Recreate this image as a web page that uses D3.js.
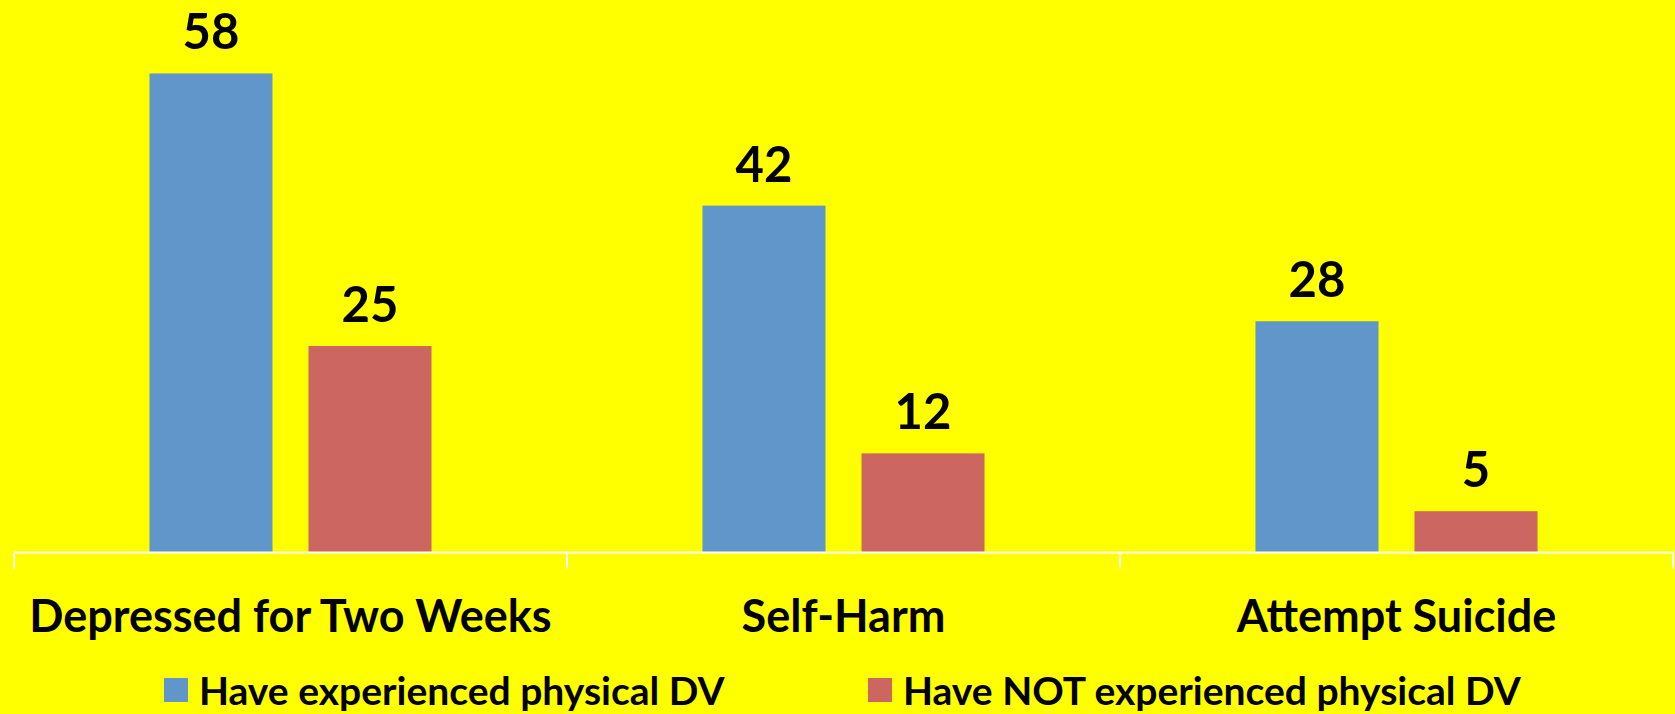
<!DOCTYPE html>
<html>
<head>
<meta charset="utf-8">
<script src="https://cdn.jsdelivr.net/npm/d3@7"></script>
<style>
  html, body { margin: 0; padding: 0; background: #ffff00; }
  svg text { font-family: Lato, "Open Sans", sans-serif; font-weight: bold; fill: #000; }
</style>
</head>
<body>
<svg id="chart" width="1675" height="714"></svg>
<script>
// data
var categories = ['Depressed for Two Weeks', 'Self-Harm', 'Attempt Suicide'];
var seriesNames = ['Have experienced physical DV', 'Have NOT experienced physical DV'];
var experienced = [58, 42, 28];
var notExperienced = [25, 12, 5];
var seriesColors = ['#6096c9', '#cc6661'];

var svg = d3.select('#chart');
var W = 1675, H = 714;
var baseY = 552.5;

svg.append('rect').attr('width', W).attr('height', H).attr('fill', '#ffff00');

var x = d3.scaleBand()
  .domain(categories)
  .range([14, 1673])
  .padding(0);

var xInner = d3.scaleBand()
  .domain(seriesNames)
  .range([0, x.bandwidth()])
  .paddingInner(0.2264)
  .paddingOuter(0.852);

var y = d3.scaleLinear()
  .domain([0, 60])
  .range([baseY, baseY - 60 * 8.259]);

var rows = categories.map(function(c, i) {
  return { cat: c, values: [experienced[i], notExperienced[i]] };
});

var groups = svg.selectAll('g.cat')
  .data(rows)
  .enter().append('g')
  .attr('class', 'cat')
  .attr('transform', function(d) { return 'translate(' + x(d.cat) + ',0)'; });

var bars = groups.selectAll('g.bar')
  .data(function(d) {
    return d.values.map(function(v, j) { return { series: seriesNames[j], value: v, idx: j }; });
  })
  .enter().append('g')
  .attr('class', 'bar');

bars.append('rect')
  .attr('x', function(d) { return xInner(d.series); })
  .attr('y', function(d) { return y(d.value); })
  .attr('width', xInner.bandwidth())
  .attr('height', function(d) { return baseY - y(d.value); })
  .attr('fill', function(d) { return seriesColors[d.idx]; });

bars.append('text')
  .attr('x', function(d) { return xInner(d.series) + xInner.bandwidth() / 2; })
  .attr('y', function(d) { return y(d.value) - 24; })
  .attr('text-anchor', 'middle')
  .style('font-size', '49px')
  .text(function(d) { return d.value; });

// axis: white baseline with ticks at band edges
var xAxis = d3.axisBottom(x).tickSize(0).tickFormat('');
var axisG = svg.append('g')
  .attr('transform', 'translate(0,' + baseY + ')')
  .call(xAxis);
axisG.select('.domain').remove();
axisG.selectAll('.tick').remove();

axisG.append('line')
  .attr('x1', x.range()[0]).attr('x2', x.range()[1])
  .attr('y1', 0).attr('y2', 0)
  .attr('stroke', '#fff').attr('stroke-width', 2);

var edges = categories.map(function(c) { return x(c); }).concat([x.range()[1]]);
axisG.selectAll('line.edge')
  .data(edges)
  .enter().append('line')
  .attr('class', 'edge')
  .attr('x1', function(d) { return d; }).attr('x2', function(d) { return d; })
  .attr('y1', 0).attr('y2', 16)
  .attr('stroke', '#fff').attr('stroke-width', 2);

svg.selectAll('text.catlabel')
  .data(categories)
  .enter().append('text')
  .attr('class', 'catlabel')
  .attr('x', function(d) { return x(d) + x.bandwidth() / 2; })
  .attr('y', 632)
  .attr('text-anchor', 'middle')
  .style('font-size', '45px')
  .text(function(d) { return d; });

// legend
var legendX = [164, 868];
var legend = svg.selectAll('g.legend')
  .data(seriesNames)
  .enter().append('g')
  .attr('class', 'legend')
  .attr('transform', function(d, i) { return 'translate(' + legendX[i] + ',678)'; });

legend.append('rect')
  .attr('width', 24).attr('height', 24)
  .attr('fill', function(d, i) { return seriesColors[i]; });

legend.append('text')
  .attr('x', 35)
  .attr('y', 27)
  .style('font-size', '39px')
  .text(function(d) { return d; });
</script>
</body>
</html>
